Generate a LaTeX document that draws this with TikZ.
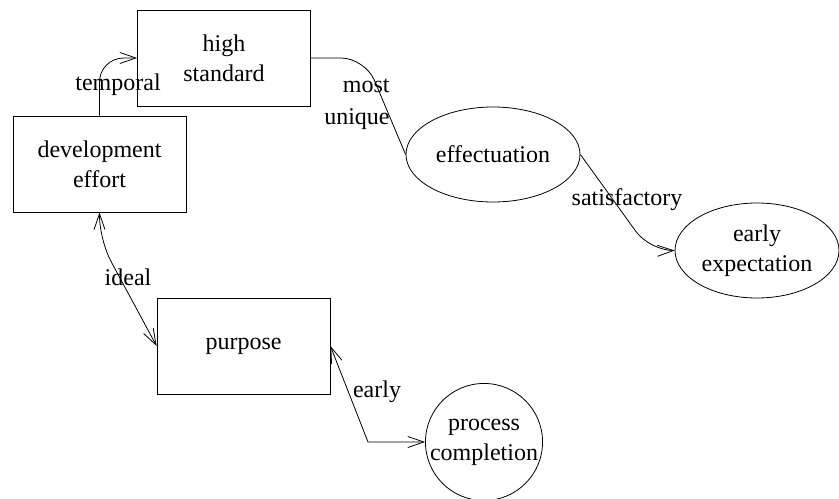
\documentclass[tikz,border=0pt]{standalone}
\usepackage{fontspec}
\setmainfont{Liberation Serif}
\usetikzlibrary{arrows.meta,shapes.geometric}

\begin{document}
\begin{tikzpicture}[x=0.5pt,y=-0.5pt,
  >={Straight Barb[length=8pt,width=5.5pt]},
  every node/.style={font=\fontsize{12}{15}\selectfont, align=center, inner sep=0pt},
  box/.style={draw, rectangle, minimum width=86.5pt, minimum height=48pt},
  oval/.style={draw, ellipse, minimum width=87pt, minimum height=47.5pt},
  link/.style={rounded corners=12pt}]
\useasboundingbox (0,0) rectangle (839,498);
% states
\node[box] (dev) at (99.5,164) {development\\effort};
\node[box] (hs) at (224,58) {high\\standard};
\node[box] (pur) at (243.5,346) {purpose};
\node[oval] (eff) at (493,154.5) {effectuation};
\node[oval, minimum width=82pt] (ee) at (757,250.5) {early\\expectation};
\node[draw, circle, minimum size=58pt] (pc) at (484,442) {process\\completion};
% links
\draw[->, link] (dev.north) |- (hs.west);
\node (temporal) at (118,85) {temporal};
\draw[link] (hs.east) -- (365,58) -- (eff.west);
\node[anchor=east, align=right, font=\fontsize{12}{16}\selectfont] (mostunique) at (390,104) {most\\unique};
\draw[->, link] (eff.east) -- (650,251) -- (ee.west);
\node (satisfactory) at (627,200) {satisfactory};
\draw[<->, link] (dev.south) -- (99.5,240) -- (pur.west);
\node (ideal) at (128,277) {ideal};
\draw[<->] (pur.east) -- (368,442) -- (pc.west);
\node (early) at (377,392) {early};
\end{tikzpicture}
\end{document}
